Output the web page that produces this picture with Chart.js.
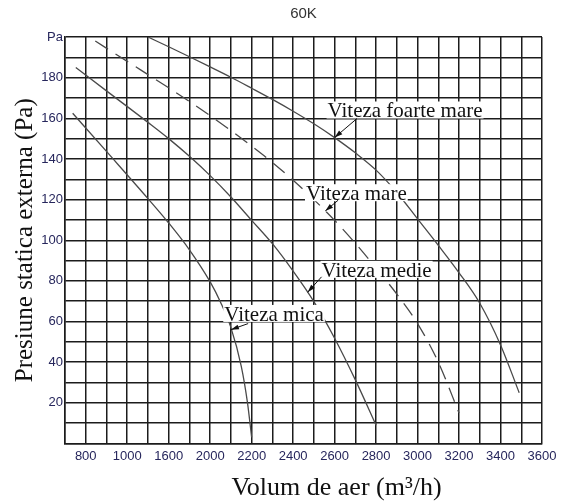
<!DOCTYPE html>
<html>
<head>
<meta charset="utf-8">
<script src="https://cdn.jsdelivr.net/npm/chart.js@4.4.1/dist/chart.umd.min.js"></script>
<style>
  html, body { margin: 0; padding: 0; background: #fff; }
  #wrap { width: 563px; height: 502px; }
</style>
</head>
<body>
<div id="wrap"><canvas id="fanChart" width="563" height="502"></canvas></div>
<script>
// fan curves: air volume (axis units) against external static pressure (Pa)
const micaX = [1337, 1500, 1700, 1800, 1900, 2000, 2050, 2100, 2150, 2180, 2200];
const micaY = [162.5, 143.7, 120.5, 108.5, 95.3, 79.5, 69.5, 57, 38, 20, 3];

const medieX = [1352, 1500, 1700, 1800, 1900, 2000, 2100, 2200, 2300, 2400, 2500, 2600, 2700, 2800];
const medieY = [185, 173.5, 158, 150, 141.3, 131.8, 121.3, 109.8, 98.3, 84.8, 69.8, 51.8, 31.3, 9];

const mareX = [1446, 1600, 1800, 1900, 2000, 2100, 2200, 2300, 2400, 2500, 2600, 2700, 2800, 2900, 3000, 3100, 3200];
const mareY = [198, 188, 175, 168.3, 161.3, 154, 146.3, 138.3, 129.5, 120, 109.8, 98.5, 86.3, 73.5, 59, 40, 15];

const foarteX = [1700, 1800, 1900, 2000, 2100, 2200, 2300, 2400, 2500, 2600, 2700, 2800, 2900, 3000, 3100, 3200, 3300, 3400, 3490];
const foarteY = [200, 195.2, 190.3, 185.3, 180.2, 174.8, 169.3, 163.5, 157.3, 150.5, 143, 134.5, 123.5, 110.5, 97.5, 84, 69, 48.5, 25];

// axis labels as printed on the sheet
const xTickValues = [1400, 1600, 1800, 2000, 2200, 2400, 2600, 2800, 3000, 3200, 3400, 3600];
const xTickLabels = ['800', '1000', '1600', '2000', '2200', '2400', '2600', '2800', '3000', '3200', '3400', '3600'];
const yTickValues = [20, 40, 60, 80, 100, 120, 140, 160, 180, 200];
const yTickLabels = ['20', '40', '60', '80', '100', '120', '140', '160', '180', 'Pa'];

// curve callouts: text anchor (left, baseline) and arrow ends, in axis units
const speedLabels = ['Viteza foarte mare', 'Viteza mare', 'Viteza medie', 'Viteza mica'];
const labelAt = [[2566, 160.4], [2462, 119.7], [2537, 82], [2068, 60.3]];
const arrowFrom = [[2708, 159.9], [2617, 119.7], [2537, 82], [2183, 59]];
const arrowTo = [[2600, 150.5], [2555, 114.4], [2470, 74.4], [2100, 56]];

const SERIF = '"Liberation Serif", "Times New Roman", serif';
const SANS = '"Liberation Sans", Arial, sans-serif';
const GRID = '#1c1c1c';
const CURVE = '#4a4a4a';

function pts(xs, ys) {
  return xs.map((x, i) => ({ x: x, y: ys[i] }));
}

function curve(label, xs, ys, dash) {
  return {
    label: label,
    data: pts(xs, ys),
    borderColor: CURVE,
    borderWidth: 1.3,
    borderDash: dash || [],
    pointRadius: 0,
    fill: false,
    cubicInterpolationMode: 'monotone'
  };
}

const callouts = {
  id: 'callouts',
  afterDatasetsDraw(chart) {
    const ctx = chart.ctx;
    const xs = chart.scales.x, ys = chart.scales.y;
    ctx.save();
    ctx.font = '21px ' + SERIF;
    ctx.textBaseline = 'alphabetic';
    ctx.textAlign = 'left';
    speedLabels.forEach((txt, i) => {
      const px = xs.getPixelForValue(labelAt[i][0]);
      const py = ys.getPixelForValue(labelAt[i][1]);
      const w = ctx.measureText(txt).width;
      ctx.fillStyle = '#fff';
      ctx.fillRect(px - 1, py - 16, w + 2, 17);
      ctx.fillStyle = '#111';
      ctx.fillText(txt, px, py);
    });
    // arrows pointing at each curve
    ctx.strokeStyle = '#111';
    ctx.fillStyle = '#111';
    ctx.lineWidth = 1;
    speedLabels.forEach((txt, i) => {
      const x1 = xs.getPixelForValue(arrowFrom[i][0]);
      const y1 = ys.getPixelForValue(arrowFrom[i][1]);
      const x2 = xs.getPixelForValue(arrowTo[i][0]);
      const y2 = ys.getPixelForValue(arrowTo[i][1]);
      const a = Math.atan2(y2 - y1, x2 - x1);
      ctx.beginPath();
      ctx.moveTo(x1, y1);
      ctx.lineTo(x2, y2);
      ctx.stroke();
      ctx.beginPath();
      ctx.moveTo(x2, y2);
      ctx.lineTo(x2 - 8 * Math.cos(a) + 2.5 * Math.sin(a), y2 - 8 * Math.sin(a) - 2.5 * Math.cos(a));
      ctx.lineTo(x2 - 8 * Math.cos(a) - 2.5 * Math.sin(a), y2 - 8 * Math.sin(a) + 2.5 * Math.cos(a));
      ctx.closePath();
      ctx.fill();
    });
    ctx.restore();
  },
  afterDraw(chart) {
    const ctx = chart.ctx;
    const area = chart.chartArea;
    const mid = (area.left + area.right) / 2;
    ctx.save();
    ctx.textAlign = 'center';
    ctx.textBaseline = 'alphabetic';
    ctx.fillStyle = '#333';
    ctx.font = '15px ' + SANS;
    ctx.fillText('60K', mid, 18);
    ctx.fillStyle = '#111';
    ctx.font = '26px ' + SERIF;
    ctx.fillText('Volum de aer (m³/h)', mid + 33, chart.height - 7);
    ctx.restore();
  }
};

new Chart(document.getElementById('fanChart'), {
  type: 'line',
  data: {
    datasets: [
      curve('Viteza mica', micaX, micaY),
      curve('Viteza medie', medieX, medieY),
      curve('Viteza mare', mareX, mareY, [15, 9]),
      curve('Viteza foarte mare', foarteX, foarteY)
    ]
  },
  options: {
    responsive: false,
    animation: false,
    devicePixelRatio: 1,
    layout: { padding: { top: 37, right: 21, bottom: 0, left: 0 } },
    plugins: {
      legend: { display: false },
      title: { display: false },
      tooltip: { enabled: false }
    },
    scales: {
      x: {
        type: 'linear',
        min: 1300,
        max: 3600,
        afterFit(scale) { scale.height = 58.5; },
        grid: { color: GRID, lineWidth: 1.5, drawTicks: false },
        border: { color: GRID, width: 1.5 },
        ticks: {
          stepSize: 100,
          autoSkip: false,
          maxRotation: 0,
          padding: 5,
          color: '#26265c',
          font: { family: SANS, size: 13 },
          callback: v => {
            const i = xTickValues.indexOf(v);
            return i < 0 ? '' : xTickLabels[i];
          }
        }
      },
      y: {
        type: 'linear',
        min: 0,
        max: 200,
        afterFit(scale) { scale.width = 65; },
        grid: { color: GRID, lineWidth: 1.5, drawTicks: false },
        border: { color: GRID, width: 1.5 },
        title: {
          display: true,
          text: 'Presiune statica externa (Pa)',
          color: '#111',
          font: { family: SERIF, size: 25 },
          padding: { top: 10, bottom: 0 }
        },
        ticks: {
          stepSize: 10,
          autoSkip: false,
          padding: 2,
          color: '#26265c',
          font: { family: SANS, size: 13 },
          callback: v => {
            const i = yTickValues.indexOf(v);
            return i < 0 ? '' : yTickLabels[i];
          }
        }
      }
    }
  },
  plugins: [callouts]
});
</script>
</body>
</html>
